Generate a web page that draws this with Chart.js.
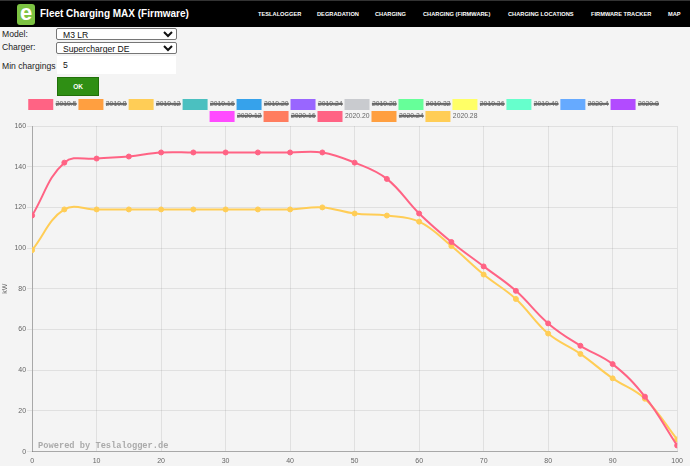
<!DOCTYPE html>
<html>
<head>
<meta charset="utf-8">
<title>Fleet Charging MAX (Firmware)</title>
<script src="https://cdn.jsdelivr.net/npm/chart.js@4.4.1/dist/chart.umd.min.js"></script>
<style>
  html, body { margin: 0; padding: 0; background: #f4f4f4; font-family: Arial, "Liberation Sans", sans-serif; }
  body { width: 690px; height: 466px; position: relative; overflow: hidden; }
  .topbar { position: absolute; left: 0; top: 0; width: 690px; height: 27px; background: #000; border-top: 1px solid #333; box-sizing: border-box; }
  .logo { position: absolute; left: 17px; top: 3px; width: 18px; height: 21px; background: #7cc242; border-radius: 3px; color: #fff; font: bold 22px Arial, sans-serif; line-height: 18px; text-align: center; overflow: hidden; }
  .apptitle { position: absolute; left: 40px; top: 7px; color: #fff; font-weight: bold; font-size: 10px; white-space: nowrap; }
  .nav { position: absolute; top: 10px; color: #fff; font-weight: bold; font-size: 5.7px; white-space: nowrap; }
  .lbl { position: absolute; left: 2px; font-size: 8.6px; color: #222; }
  select { position: absolute; left: 56px; width: 121px; height: 12px; font-size: 8.6px; padding: 0 0 0 2px; margin: 0; border: 1px solid #767676; border-radius: 2px; background: #fff; color: #111; font-family: Arial, "Liberation Sans", sans-serif; }
  .minbox { position: absolute; left: 57px; top: 56px; width: 119px; height: 18px; background: #fff; }
  .minbox span { position: absolute; left: 6px; top: 4px; font-size: 8.6px; color: #111; }
  .okbtn { position: absolute; left: 57px; top: 77px; width: 42px; height: 19px; background: #2f8f14; border: 1px solid #217009; box-sizing: border-box; color: #fff; font-weight: bold; font-size: 6.5px; text-align: center; line-height: 17px; }
  #wrap { position: absolute; left: 0; top: 97px; width: 688px; height: 373px; }
</style>
</head>
<body>
<div class="topbar">
  <div class="logo">e</div>
  <div class="apptitle">Fleet Charging MAX (Firmware)</div>
  <div class="nav" style="left:258px">TESLALOGGER</div>
  <div class="nav" style="left:317px">DEGRADATION</div>
  <div class="nav" style="left:375px">CHARGING</div>
  <div class="nav" style="left:423px">CHARGING (FIRMWARE)</div>
  <div class="nav" style="left:508px">CHARGING LOCATIONS</div>
  <div class="nav" style="left:591px">FIRMWARE TRACKER</div>
  <div class="nav" style="left:668px">MAP</div>
</div>

<div class="lbl" style="top:29px">Model:</div>
<select style="top:28px"><option>M3 LR</option></select>
<div class="lbl" style="top:42px">Charger:</div>
<select style="top:42px"><option>Supercharger DE</option></select>
<div class="lbl" style="top:61px">Min chargings</div>
<div class="minbox"><span>5</span></div>
<div class="okbtn">OK</div>

<div id="wrap"><canvas id="myChart"></canvas></div>

<script>
// state of charge in %, one point every 5 %
var socSteps = [0, 5, 10, 15, 20, 25, 30, 35, 40, 45, 50, 55, 60, 65, 70, 75, 80, 85, 90, 95, 100];

// firmware versions in the legend
var firmwareLabels = ["2019.5", "2019.8", "2019.12", "2019.16", "2019.20", "2019.24", "2019.28", "2019.32",
    "2019.36", "2019.40", "2020.4", "2020.8", "2020.12", "2020.16", "2020.20", "2020.24", "2020.28"];
var firmwareColors = ["rgb(255, 99, 132)", "rgb(255, 159, 64)", "rgb(255, 205, 86)", "rgb(75, 192, 192)",
    "rgb(54, 162, 235)", "rgb(153, 102, 255)", "rgb(201, 203, 207)", "rgb(102, 255, 153)",
    "rgb(255, 255, 102)", "rgb(102, 255, 204)", "rgb(102, 170, 255)", "rgb(178, 75, 255)",
    "rgb(255, 75, 255)", "rgb(255, 125, 95)", "rgb(255, 99, 132)", "rgb(255, 159, 64)", "rgb(255, 205, 86)"];

// max charging power in kW for the two firmwares that are shown
var kw2020_20 = [116, 142, 144, 145, 147, 147, 147, 147, 147, 147, 142, 134, 117, 103, 91, 79, 63, 52, 43, 27, 3];
var kw2020_28 = [99, 119, 119, 119, 119, 119, 119, 119, 119, 120, 117, 116, 113, 101, 87, 75, 58, 48, 36, 26, 6];

var shownSeries = { "2020.20": kw2020_20, "2020.28": kw2020_28 };

var yTicks = { min: 0, max: 160, step: 20 };
var xTicks = { min: 0, max: 100, step: 10 };

function toPoints(values) {
    return values.map(function (v, i) { return { x: socSteps[i], y: v }; });
}

function createChart() {
    Chart.defaults.font.family = "Arial, 'Liberation Sans', sans-serif";
    Chart.defaults.color = "#666";

    var datasets = firmwareLabels.map(function (name, i) {
        var values = shownSeries[name];
        return {
            label: name,
            data: values ? toPoints(values) : [],
            hidden: !values,
            fill: false,
            borderColor: firmwareColors[i],
            backgroundColor: firmwareColors[i],
            borderWidth: 2,
            pointRadius: 2.5,
            pointBorderWidth: 1,
            tension: 0.4
        };
    });

    // legend a bit tighter than chart.js would make it
    var legendFit = {
        id: "legendFit",
        beforeLayout: function (chart) {
            var lg = chart.legend;
            if (lg && !lg._tight) {
                var fit = lg.fit;
                lg.fit = function () { fit.call(this); this.height = this.height - 5; };
                lg._tight = true;
            }
        }
    };

    var poweredBy = {
        id: "poweredBy",
        afterDatasetsDraw: function (chart) {
            var ctx = chart.ctx, a = chart.chartArea;
            ctx.save();
            ctx.font = "bold 8.7px 'Liberation Mono', monospace";
            ctx.fillStyle = "#aaa";
            ctx.textBaseline = "middle";
            ctx.fillText("Powered by Teslalogger.de", a.left + 6, a.bottom - 6);
            ctx.restore();
        }
    };

    var ctx = document.getElementById("myChart");
    var myChart = new Chart(ctx, {
        type: "line",
        data: { datasets: datasets },
        plugins: [legendFit, poweredBy],
        options: {
            responsive: true,
            maintainAspectRatio: false,
            animation: false,
            plugins: {
                legend: {
                    display: true,
                    labels: {
                        boxWidth: 23,
                        boxHeight: 9,
                        padding: 3,
                        font: { size: 6.8 },
                        color: "#666"
                    }
                },
                tooltip: { enabled: false }
            },
            scales: {
                x: {
                    type: "linear",
                    min: xTicks.min,
                    max: xTicks.max,
                    ticks: { stepSize: xTicks.step, padding: 5, font: { size: 7 } },
                    grid: { color: "rgba(0,0,0,0.08)", drawTicks: false },
                    border: { color: "rgba(0,0,0,0.25)" }
                },
                y: {
                    min: yTicks.min,
                    max: yTicks.max,
                    ticks: { stepSize: yTicks.step, padding: 1, font: { size: 7 } },
                    grid: { color: "rgba(0,0,0,0.08)", tickLength: 5 },
                    border: { color: "rgba(0,0,0,0.25)" },
                    title: { display: true, text: "kW", font: { size: 7 }, padding: { top: 1, bottom: 4 } }
                }
            }
        }
    });
}

createChart();
</script>
</body>
</html>
